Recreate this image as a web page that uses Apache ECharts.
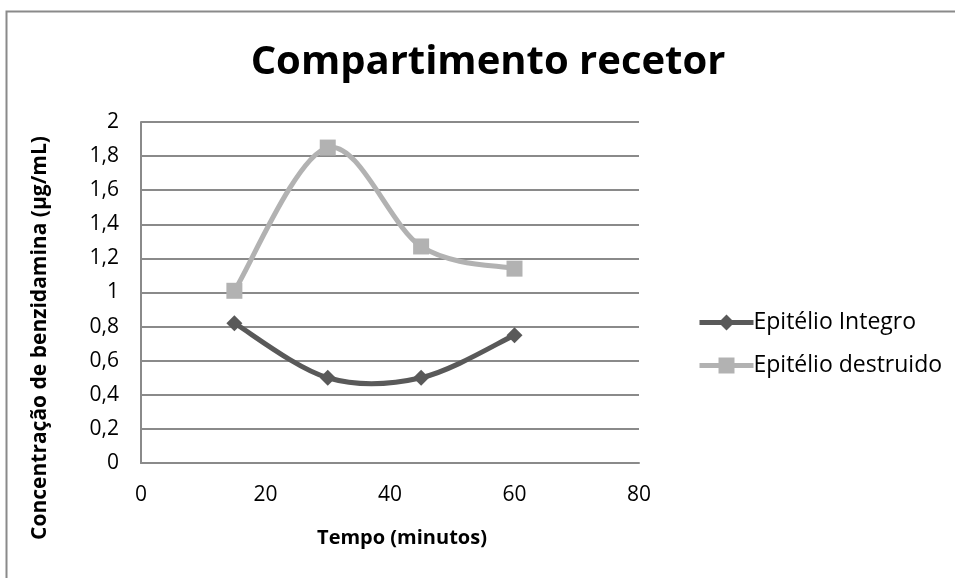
<!DOCTYPE html>
<html>
<head>
<meta charset="utf-8">
<script src="https://cdn.jsdelivr.net/npm/echarts@6/dist/echarts.min.js"></script>
<style>
  html, body { margin: 0; padding: 0; background: #ffffff; }
  #chart { width: 955px; height: 578px; }
</style>
</head>
<body>
<div id="chart"></div>
<script>
// Sampling times (minutes) and benzydamine concentrations (µg/mL)
const tempos = [15, 30, 45, 60];
const epitelioIntegro = [0.82, 0.5, 0.5, 0.75];
const epitelioDestruido = [1.01, 1.85, 1.27, 1.14];
const seriesNames = ['Epitélio Integro', 'Epitélio destruido'];
const xTicks = [0, 20, 40, 60, 80];
const yTicks = [0, 0.2, 0.4, 0.6, 0.8, 1, 1.2, 1.4, 1.6, 1.8, 2];

const FONT = '"Open Sans", Lato, sans-serif';
const DARK = '#595959';
const LIGHT = '#b2b2b2';
const pairs = (xs, ys) => xs.map((x, i) => [x, ys[i]]);

// Smoothed curve through the points (cubic Bezier, Catmull-Rom tangents),
// placed with the grid's own coordinate system.
function curveSeries(ys, color, z) {
  return {
    type: 'custom',
    coordinateSystem: 'cartesian2d',
    data: pairs(tempos, ys),
    silent: true,
    z: z,
    renderItem: (params, api) => {
      if (params.dataIndex !== 0) return null;
      const p = tempos.map((t, i) => api.coord([t, ys[i]]));
      const n = p.length;
      let d = 'M' + p[0][0] + ' ' + p[0][1];
      for (let i = 0; i < n - 1; i++) {
        const p0 = p[Math.max(i - 1, 0)];
        const p1 = p[i];
        const p2 = p[i + 1];
        const p3 = p[Math.min(i + 2, n - 1)];
        const c1 = [p1[0] + (p2[0] - p0[0]) / 6, p1[1] + (p2[1] - p0[1]) / 6];
        const c2 = [p2[0] - (p3[0] - p1[0]) / 6, p2[1] - (p3[1] - p1[1]) / 6];
        d += ' C' + c1[0] + ' ' + c1[1] + ' ' + c2[0] + ' ' + c2[1] + ' ' + p2[0] + ' ' + p2[1];
      }
      return {
        type: 'path',
        shape: { pathData: d },
        style: { fill: 'none', stroke: color, lineWidth: 5, lineJoin: 'round' }
      };
    }
  };
}

function markerSeries(name, ys, symbol, color) {
  return {
    name: name,
    type: 'line',
    data: pairs(tempos, ys),
    symbol: symbol,
    symbolSize: 16,
    color: color,
    lineStyle: { color: color, width: 5, opacity: 0 },
    itemStyle: { color: color },
    emphasis: { disabled: true },
    z: 5
  };
}

const chart = echarts.init(document.getElementById('chart'), null, { renderer: 'canvas' });

chart.setOption({
  backgroundColor: '#ffffff',
  animation: false,
  textStyle: { fontFamily: FONT },
  graphic: [
    {
      type: 'rect',
      left: 4, top: 9,
      shape: { width: 960, height: 580 },
      style: { fill: 'none', stroke: '#8a8a8a', lineWidth: 2 },
      silent: true
    },
    {
      type: 'text',
      x: 488, y: 63,
      style: {
        text: 'Compartimento recetor',
        font: 'bold 40px ' + FONT,
        fill: '#000000',
        textAlign: 'center',
        textVerticalAlign: 'middle'
      },
      silent: true
    },
    {
      type: 'text',
      x: 40, y: 338,
      rotation: Math.PI / 2,
      style: {
        text: 'Concentração de benzidamina (µg/mL)',
        font: 'bold 21px ' + FONT,
        fill: '#000000',
        textAlign: 'center',
        textVerticalAlign: 'middle'
      },
      silent: true
    },
    {
      type: 'text',
      x: 402, y: 538,
      style: {
        text: 'Tempo (minutos)',
        font: 'bold 20px ' + FONT,
        fill: '#000000',
        textAlign: 'center',
        textVerticalAlign: 'middle'
      },
      silent: true
    }
  ],
  grid: { left: 141, right: 316, top: 122, bottom: 115 },
  legend: {
    orient: 'vertical',
    left: 692,
    top: 306,
    itemWidth: 54,
    itemHeight: 20,
    itemGap: 20,
    lineStyle: { width: 5, opacity: 1 },
    textStyle: { fontFamily: FONT, fontSize: 23, color: '#000000', padding: [0, 0, 0, -5] },
    data: seriesNames
  },
  xAxis: {
    type: 'value',
    min: xTicks[0],
    max: xTicks[xTicks.length - 1],
    interval: 20,
    axisLine: { lineStyle: { color: '#8a8a8a', width: 2 } },
    axisTick: { show: false },
    axisLabel: { margin: 22, fontSize: 21, color: '#000000', fontFamily: FONT },
    splitLine: { show: false }
  },
  yAxis: {
    type: 'value',
    min: yTicks[0],
    max: yTicks[yTicks.length - 1],
    interval: 0.2,
    axisLine: { show: true, lineStyle: { color: '#8a8a8a', width: 2 } },
    axisTick: { show: false },
    axisLabel: {
      margin: 22, fontSize: 21, color: '#000000', fontFamily: FONT,
      formatter: v => String(Math.round(v * 10) / 10).replace('.', ',')
    },
    splitLine: { show: true, lineStyle: { color: '#8a8a8a', width: 2 } }
  },
  series: [
    curveSeries(epitelioDestruido, LIGHT, 2),
    curveSeries(epitelioIntegro, DARK, 3),
    markerSeries(seriesNames[0], epitelioIntegro, 'diamond', DARK),
    markerSeries(seriesNames[1], epitelioDestruido, 'rect', LIGHT)
  ]
});
</script>
</body>
</html>
